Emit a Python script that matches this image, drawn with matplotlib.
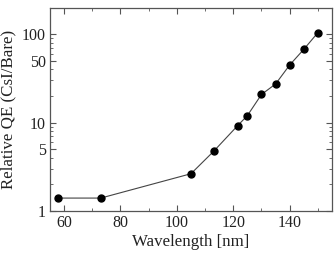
import numpy as np
import matplotlib
matplotlib.use('Agg')
import matplotlib.pyplot as plt
from matplotlib.ticker import FixedLocator, FixedFormatter, LogLocator, NullFormatter, MultipleLocator

# data
wavelength = [58, 73, 105, 113, 121.5, 125, 130, 135, 140, 145, 150]
rel_qe = [1.40, 1.40, 2.64, 4.72, 9.2, 12.0, 20.8, 27.3, 44.8, 67.3, 104]

ytick_vals = [1, 5, 10, 50, 100]
ytick_labels = ['1', '5', '10', '50', '100']

plt.rcParams['font.family'] = ['Liberation Serif', 'DejaVu Serif']

fig = plt.figure(figsize=(3.35, 2.6), dpi=100)
ax = fig.add_axes([50/335, 1 - 211/260, (332-50)/335, (211-7.5)/260])

ax.plot(wavelength, rel_qe, color='#444444', lw=0.8, marker='o',
        markersize=5, markerfacecolor='black', markeredgecolor='black')

ax.set_yscale('log')
ax.set_xlim(55, 155)
ax.set_ylim(1, 200)

ax.xaxis.set_major_locator(MultipleLocator(20))
ax.xaxis.set_minor_locator(MultipleLocator(10))
ax.yaxis.set_major_locator(FixedLocator(ytick_vals))
ax.yaxis.set_major_formatter(FixedFormatter(ytick_labels))
ax.yaxis.set_minor_locator(LogLocator(base=10, subs=np.arange(2, 10)))
ax.yaxis.set_minor_formatter(NullFormatter())

ax.tick_params(which='both', direction='in', top=True, right=True,
               labelsize=11.5, color='#555555', labelcolor='#222222')
ax.tick_params(which='major', length=4, width=0.8, pad=3)
ax.tick_params(which='minor', length=2, width=0.6)
for s in ax.spines.values():
    s.set_color('#555555')
    s.set_linewidth(0.9)

ax.set_xlabel('Wavelength [nm]', fontsize=12.2, labelpad=2, color='#222222')
ax.set_ylabel('Relative QE (CsI/Bare)', fontsize=12.2, labelpad=4, color='#222222')

fig.savefig('out.png', dpi=100)
